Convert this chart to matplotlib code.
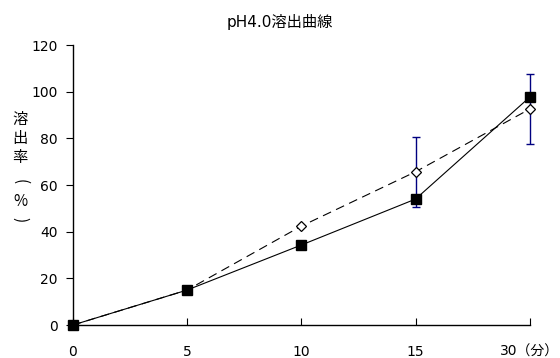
import matplotlib
matplotlib.use("Agg")
import matplotlib.pyplot as plt

plt.rcParams['font.family'] = ['DejaVu Sans', 'Noto Sans CJK JP']

# data
times = ['0', '5', '10', '15', '30（分）']
ref_vals = [0, 15, 34.3, 54, 97.7]          # filled squares, solid line
test_vals = [0, 15, 42.4, 65.7, 92.6]       # open diamonds, dashed line
test_err = [0, 0, 0, 15, 15]

fig = plt.figure(figsize=(5.6, 3.58), dpi=100)
ax = fig.add_axes([0.130, 0.092, 0.816, 0.782])

x = list(range(len(times)))

ax.errorbar(x[3:], test_vals[3:], yerr=test_err[3:], fmt='none',
            ecolor='#000080', elinewidth=1, capsize=3.2, capthick=1,
            zorder=2, clip_on=False)
ax.plot(x, test_vals, '--', color='black', lw=0.8, dashes=(8, 5),
        marker='D', markersize=5, markerfacecolor='white',
        markeredgecolor='black', markeredgewidth=0.9, zorder=3, clip_on=False)
ax.plot(x, ref_vals, '-', color='black', lw=0.8,
        marker='s', markersize=6.5, markerfacecolor='black',
        markeredgecolor='black', zorder=4, clip_on=False)

ax.set_xlim(0, 4)
ax.set_ylim(0, 120)
ax.set_xticks(x)
ax.set_xticklabels(times, fontsize=10)
ax.set_yticks(range(0, 121, 20))
ax.tick_params(axis='y', direction='out', length=5, labelsize=10, pad=6)
ax.tick_params(axis='x', direction='in', length=5, labelsize=10, pad=14)
ax.spines['top'].set_visible(False)
ax.spines['right'].set_visible(False)
for s in ['left', 'bottom']:
    ax.spines[s].set_linewidth(1)

fig.text(0.5, 0.939, 'pH4.0溶出曲線', ha='center', va='center', fontsize=11)

# vertical y label: 溶出率（%）
H = 358.0
ylab = [('溶', 119, 0), ('出', 139, 0), ('率', 158, 0),
        ('(', 182, -90), ('%', 201, 0), (')', 220, -90)]
for ch, py, rot in ylab:
    fig.text(0.036, 1 - py / H, ch, ha='center', va='center', fontsize=11,
             rotation=rot, family=['Noto Sans CJK JP', 'DejaVu Sans'])

fig.savefig('out.png', dpi=100)
